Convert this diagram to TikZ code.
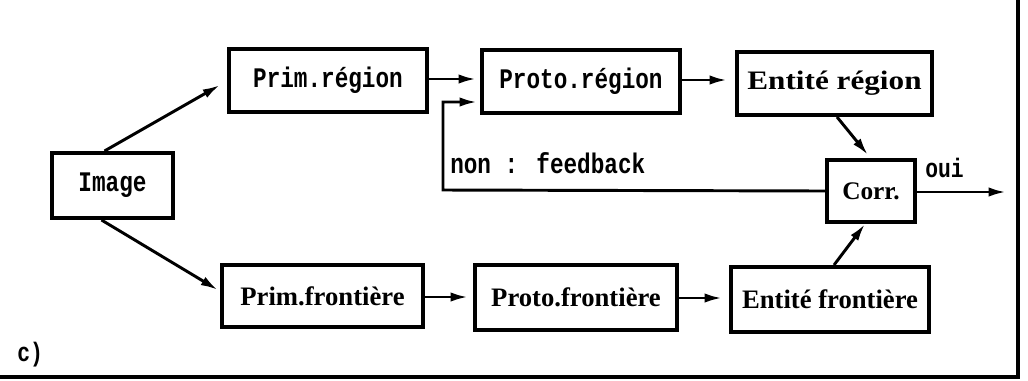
\documentclass[tikz,border=0pt]{standalone}
\usepackage{fontspec}
\setmainfont{Liberation Serif}
\newfontfamily\monob{Liberation Mono}[BoldFont={* Bold}]
\usetikzlibrary{arrows.meta,calc}
\newcommand{\mtall}[1]{\scalebox{1}[1.25]{#1}}
\tikzset{
  boxst/.style={draw,line width=3pt,inner sep=0pt,align=center},
  arr/.style={line width=2.2pt,-{Latex[length=13pt,width=7pt]}},
  monotxt/.style={font=\monob\bfseries\fontsize{17}{20}\selectfont},
  seriftxt/.style={font=\bfseries\fontsize{20}{24}\selectfont},
  frame/.style={line width=3.2pt}
}
\begin{document}
\begin{tikzpicture}[x=0.75pt,y=-0.75pt]
\useasboundingbox (0,0) rectangle (1028,380);
% boxes
\node[boxst,monotxt,minimum width=121*0.75pt,minimum height=65*0.75pt] (img) at (112.5,185.5) {\mtall{Image}};
\node[boxst,monotxt,minimum width=198*0.75pt,minimum height=63*0.75pt] (pr) at (328,80.5) {\mtall{Prim.région}};
\node[boxst,monotxt,minimum width=198*0.75pt,minimum height=63*0.75pt] (pror) at (581,81.5) {\mtall{Proto.région}};
\node[boxst,seriftxt,minimum width=195*0.75pt,minimum height=63*0.75pt] (er) at (834.5,83.5) {\scalebox{1.17}[1]{Entité région}};
\node[boxst,font=\bfseries\fontsize{19}{22}\selectfont,minimum width=88*0.75pt,minimum height=62*0.75pt] (corr) at (871,191) {Corr.};
\node[boxst,seriftxt,minimum width=201*0.75pt,minimum height=62*0.75pt] (pf) at (322.5,296) {Prim.frontière};
\node[boxst,seriftxt,minimum width=202*0.75pt,minimum height=65*0.75pt] (prof) at (576,297.5) {Proto.frontière};
\node[boxst,seriftxt,minimum width=198*0.75pt,minimum height=65*0.75pt] (ef) at (830,299.5) {Entité frontière};
% labels
\node[monotxt,anchor=base west,inner sep=0pt] (fbl) at (450,173) {\mtall{non : feedback}};
\node[font=\monob\bfseries\fontsize{16}{19}\selectfont,anchor=base west,inner sep=0pt] (ouil) at (925,177) {\mtall{oui}};
\node[font=\monob\bfseries\fontsize{16}{19}\selectfont,anchor=base west,inner sep=0pt] (cl) at (17,361) {\mtall{c)}};
% coordinates
\coordinate (fb1) at (443,190);
\coordinate (fb2) at (443,102);
\coordinate (fb3) at (477,102);
\coordinate (out) at (1006,192);
\coordinate (fr1) at (1018,0);
\coordinate (fr2) at (1018,377);
\coordinate (fr3) at (0,377);
% connectors
\draw[arr] ($(img.north)+(-8,0)$) -- ($(pr.west)+(-7,4.5)$);
\draw[arr] ($(img.south)+(-11,0)$) -- ($(pf.west)+(-2,-6)$);
\draw[arr] ($(pr.east)+(0,-1.5)$) -- ($(pror.west)+(-4,-2.5)$);
\draw[arr] ($(pror.east)+(0,-1.5)$) -- ($(er.west)+(-8,-3.5)$);
\draw[arr] ($(pf.east)+(0,1)$) -- ($(prof.west)+(-5,-0.5)$);
\draw[arr] ($(prof.east)+(0,0.5)$) -- ($(ef.west)+(-7,-1.5)$);
\draw[arr] (corr.west) -- (fb1) -- (fb2) -- (fb3);
\draw[arr] ($(er.south)+(2.5,0)$) -- ($(corr.north)+(-3,-3)$);
\draw[arr] ($(ef.north)+(4,0)$) -- ($(corr.south)+(-6,0)$);
\draw[arr] ($(corr.east)+(0,1)$) -- (out);
% frame
\draw[frame] (fr1) -- (fr2) -- (fr3);
\end{tikzpicture}
\end{document}
